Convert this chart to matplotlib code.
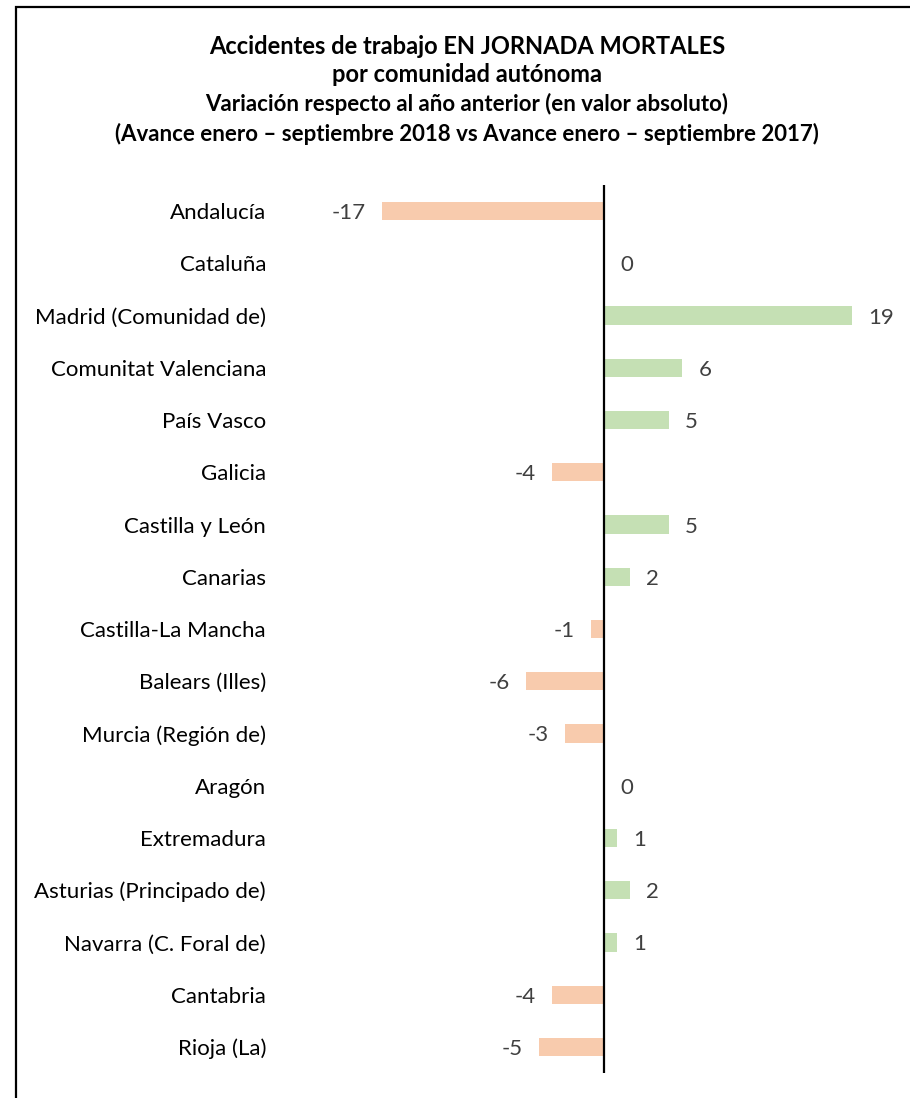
import numpy as np
import matplotlib.pyplot as plt
from matplotlib.patches import Rectangle

plt.rcParams['font.family'] = ['Lato', 'DejaVu Sans']

# Data
regions = [
    'Andalucía', 'Cataluña', 'Madrid (Comunidad de)', 'Comunitat Valenciana',
    'País Vasco', 'Galicia', 'Castilla y León', 'Canarias', 'Castilla-La Mancha',
    'Balears (Illes)', 'Murcia (Región de)', 'Aragón', 'Extremadura',
    'Asturias (Principado de)', 'Navarra (C. Foral de)', 'Cantabria', 'Rioja (La)',
]
variation = [-17, 0, 19, 6, 5, -4, 5, 2, -1, -6, -3, 0, 1, 2, 1, -4, -5]

POS_COLOR = '#C5E0B4'
NEG_COLOR = '#F8CBAD'
LABEL_COLOR = '#404040'

W, H = 910, 1098
fig = plt.figure(figsize=(W / 100, H / 100), dpi=100, facecolor='white')

# Outer frame (only left and top edges are visible in the crop)
fig.patches.append(Rectangle((16 / W, -0.1), 1.2, 1 - 7 / H + 0.1,
                             transform=fig.transFigure, fill=False,
                             edgecolor='black', linewidth=1.6))

# Titles
fig.text(467 / W, 1 - 46 / H, 'Accidentes de trabajo EN JORNADA MORTALES',
         ha='center', va='center', fontsize=17, fontweight='bold')
fig.text(467 / W, 1 - 74 / H, 'por comunidad autónoma',
         ha='center', va='center', fontsize=17, fontweight='bold')
fig.text(467 / W, 1 - 104 / H, 'Variación respecto al año anterior (en valor absoluto)',
         ha='center', va='center', fontsize=16, fontweight='bold')
fig.text(467 / W, 1 - 134 / H,
         '(Avance enero – septiembre 2018 vs Avance enero – septiembre 2017)',
         ha='center', va='center', fontsize=16, fontweight='bold')

# Axes: spans rows from y=185 to y=1073 px
ax = fig.add_axes([280 / W, 1 - 1073 / H, 620 / W, 888 / H])
px_per_unit = (852 - 604) / 19
ax.set_xlim((280 - 604) / px_per_unit, (900 - 604) / px_per_unit)

y = np.arange(len(regions))
colors = [POS_COLOR if v > 0 else NEG_COLOR for v in variation]
ax.barh(y, variation, height=0.35, color=colors, zorder=2)
ax.set_ylim(len(regions) - 0.5, -0.5)

ax.axvline(0, color='black', linewidth=1.6, zorder=3)

for yi, v in zip(y, variation):
    off = 16 / px_per_unit
    if v < 0:
        ax.text(v - off, yi, str(v), ha='right', va='center_baseline',
                fontsize=16, color=LABEL_COLOR)
    else:
        ax.text(v + off, yi, str(v), ha='left', va='center_baseline',
                fontsize=16, color=LABEL_COLOR)

ax.set_yticks(y)
ax.set_yticklabels(regions, fontsize=16, color='black')
ax.tick_params(axis='y', length=0, pad=10)
ax.set_xticks([])
for s in ax.spines.values():
    s.set_visible(False)
ax.patch.set_alpha(0)

fig.savefig('out.png', dpi=100, facecolor='white')
